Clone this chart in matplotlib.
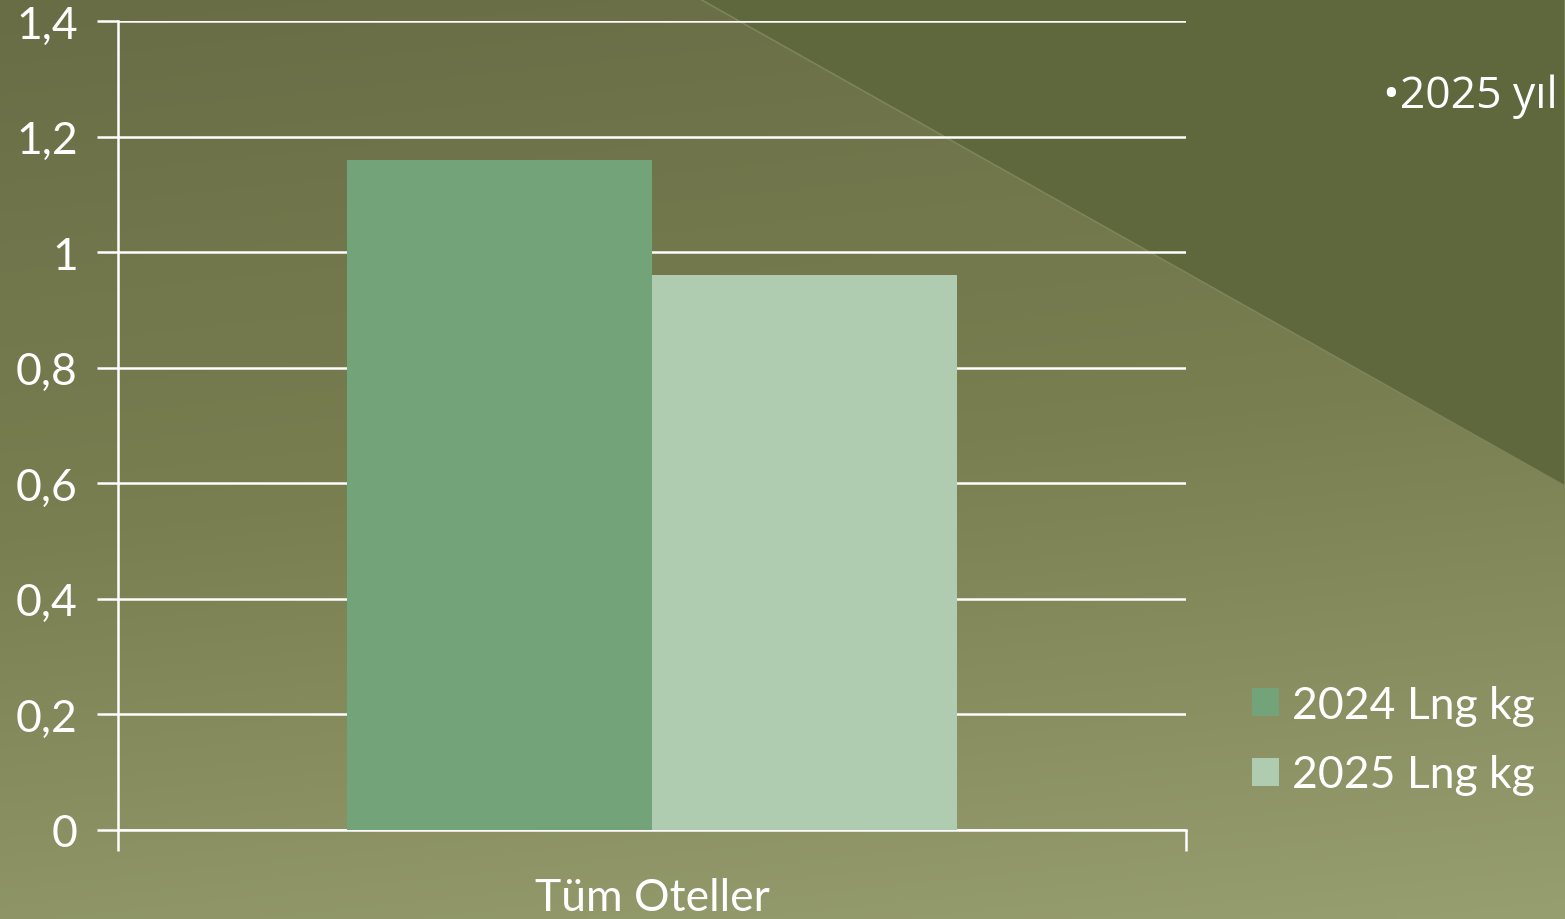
import matplotlib.pyplot as plt
import numpy as np
from matplotlib.patches import Polygon
from matplotlib.colors import LinearSegmentedColormap

categories = ["Tüm Oteller"]
series_names = ["2024 Lng kg", "2025 Lng kg"]
values_2024 = [1.16]
values_2025 = [0.96]
y_ticks = [0, 0.2, 0.4, 0.6, 0.8, 1.0, 1.2, 1.4]
y_labels = ["0", "0,2", "0,4", "0,6", "0,8", "1", "1,2", "1,4"]

W, H = 1565, 920
fig = plt.figure(figsize=(W / 100, H / 100), dpi=100)

# background: vertical-ish gradient plus darker triangle top right
bg = fig.add_axes([0, 0, 1, 1], zorder=-10)
bg.set_xlim(0, W)
bg.set_ylim(H, 0)
bg.axis("off")
cmap = LinearSegmentedColormap.from_list("bg", ["#686d46", "#7a7f51", "#979e70"])
yy, xx = np.mgrid[0:H:4, 0:W:4]
grad = (yy / H) * 0.85 + (xx / W) * 0.15
bg.imshow(grad, cmap=cmap, extent=[0, W, H, 0], aspect="auto", vmin=0, vmax=1)
bg.add_patch(Polygon([[700, 0], [W, 0], [W, 487]], closed=True,
                     facecolor="#5f673d", edgecolor="#7d8458", linewidth=1.2))

ax = fig.add_axes([118 / W, (H - 831) / H, (1186 - 118) / W, (831 - 22) / H])
ax.patch.set_alpha(0)

x = np.arange(len(categories))
bw = 0.2856
ax.bar(x - bw / 2, values_2024, bw, color="#72a379", label=series_names[0], zorder=3)
ax.bar(x + bw / 2, values_2025, bw, color="#afcbb0", label=series_names[1], zorder=3)

ax.set_xlim(-0.5, 0.5)
ax.set_ylim(0, 1.4)
ax.set_yticks(y_ticks)
ax.set_yticklabels(y_labels)
ax.set_xticks([-0.5, 0.5])
ax.set_xticklabels([])
ax.set_xticks(x, minor=True)
ax.set_xticklabels(categories, minor=True)

for s in ["top", "right"]:
    ax.spines[s].set_visible(False)
for s in ["left", "bottom"]:
    ax.spines[s].set_color("white")
    ax.spines[s].set_linewidth(1.8)

ax.tick_params(axis="y", colors="white", length=15, width=1.8, labelsize=32, pad=14)
ax.tick_params(axis="x", which="major", colors="white", length=15, width=1.8)
ax.tick_params(axis="x", which="minor", length=0, labelsize=32, labelcolor="white", pad=34)
for lab in ax.get_yticklabels() + ax.get_xticklabels(minor=True):
    lab.set_family("Lato")

ax.grid(axis="y", color="white", linewidth=1.8, zorder=0)
ax.set_axisbelow(True)

leg = fig.legend(loc="center left", bbox_to_anchor=(1212 / W, 1 - 741 / H),
                 frameon=False, prop={"family": "Lato", "size": 32},
                 handlelength=0.6, handleheight=0.6, handletextpad=0.3,
                 labelspacing=0.65, labelcolor="white")

fig.text(1383 / W, 1 - 97 / H, "•2025 yıl", color="white", fontsize=32,
         family="Open Sans", va="center", ha="left")

fig.savefig("out.png", dpi=100)
